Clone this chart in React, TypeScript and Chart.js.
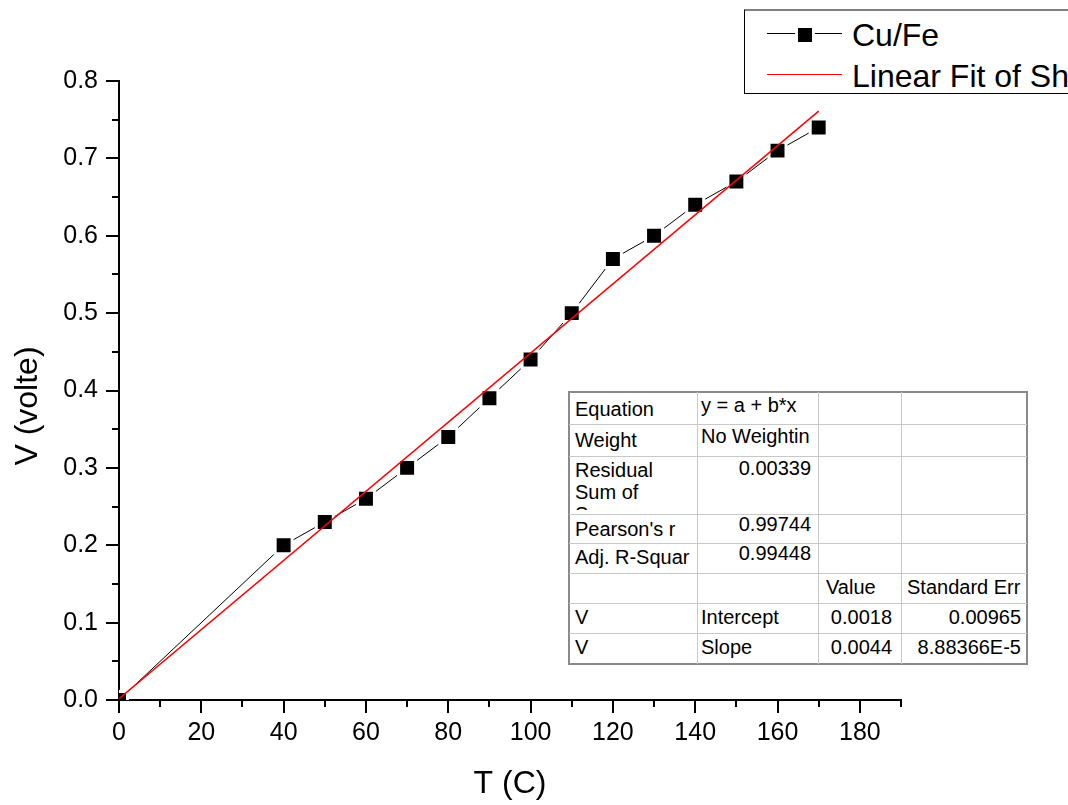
import React, { useEffect, useRef } from 'react';
import { Chart, registerables } from 'chart.js';

Chart.register(...registerables);

// ---------------- data ----------------
const temperatures = [0, 40, 50, 60, 70, 80, 90, 100, 110, 120, 130, 140, 150, 160, 170];
const voltages = [0, 0.2, 0.23, 0.26, 0.3, 0.34, 0.39, 0.44, 0.5, 0.57, 0.6, 0.64, 0.67, 0.71, 0.74];
const fitT = [0, 170];
const fitV = [0.0018, 0.761];
const seriesLabels = ['Cu/Fe', 'Linear Fit of Sheet1 V'];
const xTicks = [0, 20, 40, 60, 80, 100, 120, 140, 160, 180];
const xMinorTicks = [10, 30, 50, 70, 90, 110, 130, 150, 170, 190];
const yTicks = [0, 0.1, 0.2, 0.3, 0.4, 0.5, 0.6, 0.7, 0.8];
const yMinorTicks = [0.05, 0.15, 0.25, 0.35, 0.45, 0.55, 0.65, 0.75];
const xTitle = 'T (C)';
const yTitle = 'V (volte)';

// fit report table
const statNames = ['Equation', 'Weight', 'Residual Sum of Squares', "Pearson's r", 'Adj. R-Squar', '', 'V', 'V'];
const statValues = ['y = a + b*x', 'No Weightin', '0.00339', '0.99744', '0.99448', '', 'Intercept', 'Slope'];
const paramValues = ['', '', '', '', '', 'Value', '0.0018', '0.0044'];
const paramErrors = ['', '', '', '', '', 'Standard Err', '0.00965', '8.88366E-5'];

// ---------------- layout ----------------
const FONT = '"Liberation Sans", Arial, Helvetica, sans-serif';
const colX = [569, 697, 818, 901, 1027];
const rowY = [392, 424, 456, 514, 543, 573, 603, 633, 664];
const baseCol0 = [24, 23, 21, 22, 21, 21, 21, 21];
const baseOther = [20, 19, 19, 17, 17, 21, 21, 21];
const padL = [6, 4, 8, 6];
const padR = [6, 7, 9, 6];
const TFS = 20; // table font size
const TBASE = 16.9; // baseline offset inside a line box of height TFS

const minorTicksPlugin = {
  id: 'minorTicks',
  afterDraw(chart: any) {
    const { ctx, scales, chartArea } = chart;
    const x = scales.x;
    const y = scales.y;
    ctx.save();
    ctx.strokeStyle = '#000';
    ctx.lineWidth = 2;
    ctx.beginPath();
    xMinorTicks.forEach((v) => {
      const px = Math.round(x.getPixelForValue(v));
      ctx.moveTo(px, chartArea.bottom);
      ctx.lineTo(px, chartArea.bottom + 7);
    });
    yMinorTicks.forEach((v) => {
      const py = Math.round(y.getPixelForValue(v));
      ctx.moveTo(chartArea.left - 7, py);
      ctx.lineTo(chartArea.left, py);
    });
    ctx.stroke();

    // axis titles
    ctx.fillStyle = '#000';
    ctx.font = `32px ${FONT}`;
    ctx.textAlign = 'center';
    ctx.textBaseline = 'alphabetic';
    ctx.fillText(xTitle, (chartArea.left + chartArea.right) / 2, 793);
    ctx.translate(37, 406);
    ctx.rotate(-Math.PI / 2);
    ctx.fillText(yTitle, 0, 0);
    ctx.restore();
  },
};

function ChartCanvas() {
  const ref = useRef<HTMLCanvasElement | null>(null);
  useEffect(() => {
    if (!ref.current) return;
    const tickFont = { family: FONT, size: 25 };
    const chart = new Chart(ref.current, {
      type: 'scatter',
      data: {
        datasets: [
          {
            label: seriesLabels[0],
            data: temperatures.map((t, i) => ({ x: t, y: voltages[i] })),
            showLine: true,
            borderColor: '#000',
            borderWidth: 1,
            pointStyle: 'rect',
            pointRadius: 12,
            pointHoverRadius: 12,
            pointBackgroundColor: '#000',
            pointBorderColor: '#fff',
            pointBorderWidth: 3,
            clip: 0,
            order: 2,
          } as any,
          {
            label: seriesLabels[1],
            data: fitT.map((t, i) => ({ x: t, y: fitV[i] })),
            showLine: true,
            borderColor: '#ff0000',
            borderWidth: 1.5,
            pointRadius: 0,
            order: 1,
          } as any,
        ],
      },
      options: {
        animation: false,
        responsive: false,
        events: [],
        layout: { padding: { left: 0, top: 81, right: 167, bottom: 0 } },
        plugins: { legend: { display: false }, tooltip: { enabled: false } },
        scales: {
          x: {
            type: 'linear',
            min: 0,
            max: 190,
            z: 1,
            afterBuildTicks: (s: any) => {
              s.ticks = xTicks.map((v) => ({ value: v }));
            },
            afterFit: (s: any) => {
              s.height = 105;
            },
            grid: { drawOnChartArea: false, drawTicks: true, tickLength: 13, color: '#000', lineWidth: 2 },
            border: { display: true, color: '#000', width: 2 },
            ticks: { color: '#000', font: tickFont, padding: 5, maxRotation: 0, autoSkip: false },
          },
          y: {
            type: 'linear',
            min: 0,
            max: 0.8,
            z: 1,
            afterBuildTicks: (s: any) => {
              s.ticks = yTicks.map((v) => ({ value: v }));
            },
            afterFit: (s: any) => {
              s.width = 119;
            },
            grid: { drawOnChartArea: false, drawTicks: true, tickLength: 13, color: '#000', lineWidth: 2 },
            border: { display: true, color: '#000', width: 2 },
            ticks: {
              color: '#000',
              font: tickFont,
              padding: 8,
              autoSkip: false,
              callback: (v: any) => Number(v).toFixed(1),
            },
          },
        },
      } as any,
      plugins: [minorTicksPlugin],
    });
    return () => chart.destroy();
  }, []);
  return <canvas ref={ref} width={1068} height={805} style={{ position: 'absolute', left: 0, top: 0 }} />;
}

function Legend() {
  const txt = (top: number): React.CSSProperties => ({
    position: 'absolute',
    left: 852,
    top,
    fontFamily: FONT,
    fontSize: 32,
    lineHeight: '32px',
    whiteSpace: 'nowrap',
    color: '#000',
  });
  return (
    <>
      <div
        style={{
          position: 'absolute',
          left: 744,
          top: 9,
          width: 400,
          height: 85,
          boxSizing: 'border-box',
          background: '#fff',
          borderLeft: '1px solid #000',
          borderBottom: '1px solid #000',
          borderTop: '2px solid #808080',
        }}
      />
      <div style={{ position: 'absolute', left: 767, top: 33, width: 75, height: 1, background: '#000' }} />
      <div
        style={{
          position: 'absolute',
          left: 798,
          top: 28,
          width: 14,
          height: 14,
          background: '#000',
          boxShadow: '0 0 0 3px #fff',
        }}
      />
      <div style={{ position: 'absolute', left: 767, top: 74, width: 75, height: 1, background: '#ff0000' }} />
      <div style={txt(19)}>{seriesLabels[0]}</div>
      <div style={txt(60)}>{seriesLabels[1]}</div>
    </>
  );
}

function FitTable() {
  const cols = [statNames, statValues, paramValues, paramErrors];
  const isNum = (s: string) => /^[0-9.]/.test(s);
  const cells: React.ReactNode[] = [];
  for (let r = 0; r < 8; r++) {
    for (let c = 0; c < 4; c++) {
      const text = cols[c][r];
      if (!text) continue;
      const left = colX[c];
      const width = colX[c + 1] - colX[c];
      const top = rowY[r];
      const height = rowY[r + 1] - rowY[r];
      const right = isNum(text);
      const wrap = c === 0 && r === 2;
      const base = c === 0 ? baseCol0[r] : baseOther[r];
      const lh = wrap ? 22 : TFS;
      const off = wrap ? 17.9 : TBASE;
      cells.push(
        <div
          key={`${r}-${c}`}
          style={{
            position: 'absolute',
            left,
            top,
            width,
            height: wrap ? height - 4 : height,
            overflow: 'hidden',
          }}
        >
          <div
            style={{
              position: 'absolute',
              top: base - off,
              left: padL[c],
              right: padR[c],
              textAlign: right ? 'right' : 'left',
              fontFamily: FONT,
              fontSize: TFS,
              lineHeight: `${lh}px`,
              whiteSpace: wrap ? 'normal' : 'nowrap',
              color: '#000',
            }}
          >
            {text}
          </div>
        </div>
      );
    }
  }
  const lines: React.ReactNode[] = [];
  for (let r = 1; r < rowY.length - 1; r++) {
    lines.push(
      <div
        key={`h${r}`}
        style={{ position: 'absolute', left: colX[0], top: rowY[r], width: colX[4] - colX[0], height: 1, background: '#c8c8c8' }}
      />
    );
  }
  for (let c = 1; c < colX.length - 1; c++) {
    lines.push(
      <div
        key={`v${c}`}
        style={{ position: 'absolute', left: colX[c], top: rowY[0], width: 1, height: rowY[8] - rowY[0], background: '#c8c8c8' }}
      />
    );
  }
  return (
    <>
      <div
        style={{
          position: 'absolute',
          left: colX[0] - 1,
          top: rowY[0] - 1,
          width: colX[4] - colX[0] + 2,
          height: rowY[8] - rowY[0] + 2,
          boxSizing: 'border-box',
          background: '#fff',
          border: '2px solid #8a8a8a',
        }}
      />
      {lines}
      {cells}
    </>
  );
}

export default function App() {
  return (
    <div
      style={{
        position: 'fixed',
        left: 0,
        top: 0,
        width: 1068,
        height: 805,
        overflow: 'hidden',
        background: '#fff',
      }}
    >
      <ChartCanvas />
      <FitTable />
      <Legend />
    </div>
  );
}
